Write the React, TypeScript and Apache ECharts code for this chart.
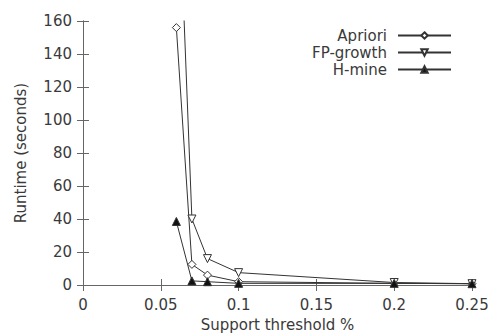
import React, { useEffect, useRef } from "react";
import * as echarts from "echarts";

const supports = [0.06, 0.07, 0.08, 0.1, 0.2, 0.25];
const apriori = [156, 12.5, 6, 2, 1, 0.8];
const fpGrowth = [280, 40, 16, 7.5, 1.5, 0.8];
const hMine = [38.5, 2.5, 2, 1, 1, 0.8];
const xTicks = [0, 0.05, 0.1, 0.15, 0.2, 0.25];
const yTicks = [0, 20, 40, 60, 80, 100, 120, 140, 160];

const seriesNames = ["Apriori", "FP-growth", "H-mine"];

const FONT = "DejaVu Sans";
const INK = "#333";
const AXIS = "#666";
const TEXT = "#3a3a3a";

export default function App() {
  const ref = useRef<HTMLDivElement>(null);
  useEffect(() => {
    if (!ref.current) return;
    const chart = echarts.init(ref.current, undefined, { renderer: "svg" });
    const pair = (vals: number[]) => supports.map((s, i) => [s, vals[i]]);
    const axisLineStyle = { show: true, lineStyle: { color: AXIS, width: 1 } };
    const tick = { show: true, inside: true, length: 6, lineStyle: { color: AXIS } };
    const lineSeries = (name: string, vals: number[], symbol: string, rotate: number, filled: boolean) => ({
      name,
      type: "line",
      data: pair(vals),
      clip: true,
      symbol,
      symbolRotate: rotate,
      symbolSize: 8,
      showAllSymbol: true,
      lineStyle: { color: INK, width: 1 },
      itemStyle: { color: filled ? "#111" : "#fff", borderColor: INK, borderWidth: 1 },
      z: filled ? 4 : 3,
    });
    const legendAt = (name: string, top: number) => ({
      data: [name],
      right: 40,
      top,
      align: "right",
      orient: "vertical",
      itemWidth: 53,
      itemHeight: 8,
      padding: 0,
      textStyle: { fontFamily: FONT, fontSize: 15, color: TEXT, padding: [0, 6, 0, 0] },
      selectedMode: false,
    });
    chart.setOption({
      animation: false,
      backgroundColor: "#fff",
      grid: { left: 83, right: 20, top: 21, bottom: 49, outerBoundsMode: "none", containLabel: false },
      legend: [legendAt("Apriori", 28), legendAt("FP-growth", 45), legendAt("H-mine", 62)],
      xAxis: [
        {
          type: "value",
          min: 0,
          max: 0.25,
          interval: 0.05,
          name: "Support threshold %",
          nameLocation: "middle",
          nameGap: 32,
          nameTextStyle: { fontFamily: FONT, fontSize: 15, color: TEXT },
          axisLine: axisLineStyle,
          axisTick: tick,
          splitLine: { show: false },
          axisLabel: {
            fontFamily: FONT,
            fontSize: 15,
            color: TEXT,
            margin: 12,
            formatter: (v: number) => {
              const t = xTicks.find((x) => Math.abs(x - v) < 1e-9);
              return t === undefined ? "" : String(t);
            },
          },
        },
        {
          type: "value",
          position: "top",
          min: 0,
          max: 0.25,
          interval: 0.05,
          axisLine: axisLineStyle,
          axisTick: tick,
          axisLabel: { show: false },
          splitLine: { show: false },
        },
      ],
      yAxis: [
        {
          type: "value",
          min: 0,
          max: 160,
          interval: 20,
          name: "Runtime (seconds)",
          nameLocation: "middle",
          nameGap: 55,
          nameTextStyle: { fontFamily: FONT, fontSize: 15, color: TEXT },
          axisLine: axisLineStyle,
          axisTick: tick,
          splitLine: { show: false },
          axisLabel: {
            fontFamily: FONT,
            fontSize: 15,
            color: TEXT,
            margin: 11,
            formatter: (v: number) => {
              const t = yTicks.find((y) => Math.abs(y - v) < 1e-9);
              return t === undefined ? "" : String(t);
            },
          },
        },
        {
          type: "value",
          position: "right",
          min: 0,
          max: 160,
          interval: 20,
          axisLine: axisLineStyle,
          axisTick: tick,
          axisLabel: { show: false },
          splitLine: { show: false },
        },
      ],
      series: [
        lineSeries(seriesNames[0], apriori, "diamond", 0, false),
        lineSeries(seriesNames[1], fpGrowth, "triangle", 180, false),
        lineSeries(seriesNames[2], hMine, "triangle", 0, true),
      ],
    });
    return () => chart.dispose();
  }, []);
  return <div ref={ref} style={{ width: 492, height: 334, position: "absolute", left: 0, top: 0 }} />;
}
